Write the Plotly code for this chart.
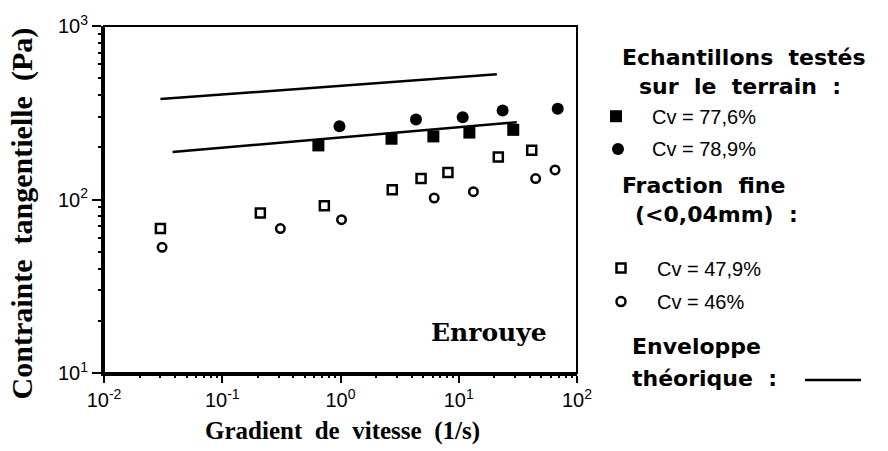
import plotly.graph_objects as go

# Field samples (échantillons testés sur le terrain)
x_field_sq = [0.65, 2.7, 6.1, 12.3, 28.9]
y_field_sq = [205, 224, 231, 243, 252]
x_field_ci = [0.98, 4.35, 10.8, 23.5, 68.7]
y_field_ci = [264, 289, 298, 326, 333]

# Fine fraction (<0,04 mm)
x_fine_sq = [0.03, 0.21, 0.73, 2.74, 4.8, 8.1, 21.6, 41.4]
y_fine_sq = [68, 83.5, 92, 114, 132, 143, 176, 192]
x_fine_ci = [0.031, 0.31, 1.02, 6.2, 13.3, 44.7, 65.2]
y_fine_ci = [53, 68, 76.5, 102, 111, 132, 148]

# Theoretical envelope (two power-law bounds)
x_env_up = [0.030, 21.0]
y_env_up = [379, 527]
x_env_low = [0.038, 31.0]
y_env_low = [188, 279]

x_tick_vals = [0.01, 0.1, 1, 10, 100]
x_tick_text = ["10<sup>-2</sup>", "10<sup>-1</sup>", "10<sup>0</sup>", "10<sup>1</sup>", "10<sup>2</sup>"]
y_tick_vals = [10, 100, 1000]
y_tick_text = ["10<sup>1</sup>", "10<sup>2</sup>", "10<sup>3</sup>"]

x_minor = [k * 10 ** e for e in range(-2, 2) for k in range(2, 10)]
y_minor = [k * 10 ** e for e in range(1, 3) for k in range(2, 10)]

W, H = 888, 451
L, R, T, B = 104, 577, 23, 373  # plot area in pixels


def px(x):
    return (x - L) / (R - L)


def py(y):
    return (B - y) / (B - T)


fig = go.Figure()

for xs, ys in [(x_env_up, y_env_up), (x_env_low, y_env_low)]:
    fig.add_trace(go.Scatter(x=xs, y=ys, mode="lines",
                             line=dict(color="black", width=2.5),
                             showlegend=False, hoverinfo="skip"))

fig.add_trace(go.Scatter(x=x_field_sq, y=y_field_sq, mode="markers",
                         marker=dict(symbol="square", size=12, color="black"),
                         showlegend=False))
fig.add_trace(go.Scatter(x=x_fine_sq, y=y_fine_sq, mode="markers",
                         marker=dict(symbol="square-open", size=9, color="black",
                                     line=dict(width=2.5, color="black")),
                         showlegend=False))
fig.add_trace(go.Scatter(x=x_fine_ci, y=y_fine_ci, mode="markers",
                         marker=dict(symbol="circle-open", size=8.5, color="black",
                                     line=dict(width=2.5, color="black")),
                         showlegend=False))
# this series sits on the overlay axes that carry the minor ticks
fig.add_trace(go.Scatter(x=x_field_ci, y=y_field_ci, mode="markers",
                         xaxis="x2", yaxis="y2",
                         marker=dict(symbol="circle", size=12, color="black"),
                         showlegend=False))

tick_font = dict(family="Liberation Sans, Arial", size=20, color="black")

common = dict(type="log", showgrid=False, zeroline=False, ticks="outside",
              tickwidth=2, tickcolor="black")

fig.update_layout(
    xaxis=dict(range=[-2, 2], showline=True, linewidth=3, linecolor="black",
               tickmode="array", tickvals=x_tick_vals, ticktext=x_tick_text,
               ticklen=7, tickfont=tick_font, **common),
    yaxis=dict(range=[1, 3], showline=True, linewidth=3, linecolor="black",
               tickmode="array", tickvals=y_tick_vals, ticktext=y_tick_text,
               ticklen=9, tickfont=tick_font, **common),
    xaxis2=dict(range=[-2, 2], overlaying="x", anchor="y2", side="bottom",
                showline=False, tickmode="array", tickvals=x_minor,
                ticklen=4, showticklabels=False, **common),
    yaxis2=dict(range=[1, 3], overlaying="y", anchor="x2", side="left",
                showline=False, tickmode="array", tickvals=y_minor,
                ticklen=5, showticklabels=False, **common),
)

shapes = [dict(type="rect", xref="paper", yref="paper", x0=0, x1=1, y0=0, y1=1,
               line=dict(color="black", width=2))]

# Legend keys
shapes.append(dict(type="rect", xref="paper", yref="paper", xsizemode="pixel", ysizemode="pixel",
                   xanchor=px(616), yanchor=py(114), x0=-6, x1=6, y0=-6, y1=6,
                   fillcolor="black", line=dict(width=0)))
shapes.append(dict(type="circle", xref="paper", yref="paper", xsizemode="pixel", ysizemode="pixel",
                   xanchor=px(618), yanchor=py(147), x0=-6, x1=6, y0=-6, y1=6,
                   fillcolor="black", line=dict(width=0)))
shapes.append(dict(type="rect", xref="paper", yref="paper", xsizemode="pixel", ysizemode="pixel",
                   xanchor=px(621), yanchor=py(267), x0=-4.5, x1=4.5, y0=-4.5, y1=4.5,
                   line=dict(color="black", width=2.5)))
shapes.append(dict(type="circle", xref="paper", yref="paper", xsizemode="pixel", ysizemode="pixel",
                   xanchor=px(621), yanchor=py(301), x0=-4.5, x1=4.5, y0=-4.5, y1=4.5,
                   line=dict(color="black", width=2.5)))
shapes.append(dict(type="line", xref="paper", yref="paper",
                   x0=px(805), x1=px(861), y0=py(380), y1=py(380),
                   line=dict(color="black", width=2.5)))
fig.update_layout(shapes=shapes)

serif = "Liberation Serif, Times New Roman"
head_font = dict(family="DejaVu Sans", size=22, color="black")
item_font = dict(family="Liberation Sans, Arial", size=20, color="black")

annotations = [
    dict(text="<b>Contrainte\u00a0 tangentielle\u00a0 (Pa)</b>", x=px(22), y=py(212),
         textangle=-90, font=dict(family=serif, size=30, color="black")),
    dict(text="<b>Gradient\u00a0 de\u00a0 vitesse\u00a0 (1/s)</b>", x=px(342), y=py(432),
         font=dict(family=serif, size=25, color="black")),
    dict(text="<b>Enrouye</b>", x=px(489), y=py(332), font=dict(family="DejaVu Serif", size=25, color="black")),
    dict(text="<b>Echantillons\u00a0 testés</b>", x=px(744), y=py(55), font=head_font),
    dict(text="<b>sur\u00a0 le\u00a0 terrain\u00a0 :</b>", x=px(740), y=py(84), font=head_font),
    dict(text="Cv = 77,6%", x=px(650), y=py(115), xanchor="left", font=item_font),
    dict(text="Cv = 78,9%", x=px(650), y=py(147), xanchor="left", font=item_font),
    dict(text="<b>Fraction\u00a0 fine</b>", x=px(703), y=py(184), font=head_font),
    dict(text="<b>(<0,04mm)\u00a0 :</b>", x=px(716), y=py(213), font=head_font),
    dict(text="Cv = 47,9%", x=px(655), y=py(268), xanchor="left", font=item_font),
    dict(text="Cv = 46%", x=px(655), y=py(301), xanchor="left", font=item_font),
    dict(text="<b>Enveloppe</b>", x=px(630), y=py(346), xanchor="left", font=head_font),
    dict(text="<b>théorique\u00a0 :</b>", x=px(630), y=py(379), xanchor="left", font=head_font),
]
for a in annotations:
    a.update(xref="paper", yref="paper", showarrow=False, yanchor="middle")
    a.setdefault("xanchor", "center")
fig.update_layout(annotations=annotations)

fig.update_layout(width=W, height=H,
                  margin=dict(l=L, r=W - R, t=T, b=H - B),
                  paper_bgcolor="white", plot_bgcolor="white",
                  showlegend=False)

fig.write_html("out.html")
